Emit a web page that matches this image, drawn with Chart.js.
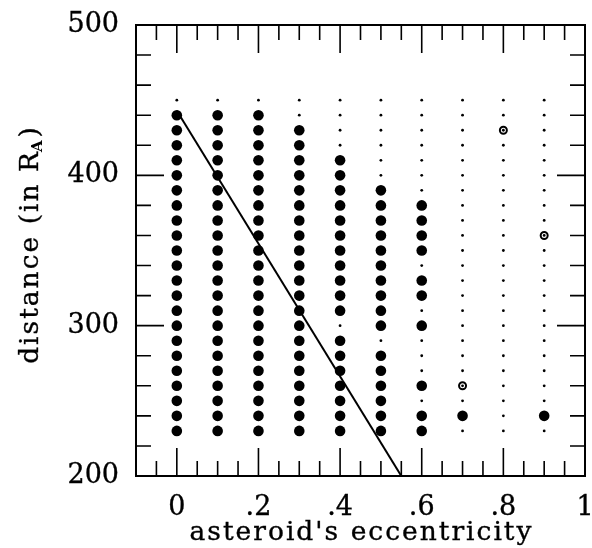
<!DOCTYPE html>
<html><head><meta charset="utf-8">
<script src="https://cdn.jsdelivr.net/npm/chart.js@4.4.0/dist/chart.umd.min.js"></script>
<style>html,body{margin:0;padding:0;background:#fff}#wrap{width:592px;height:548px}</style>
</head><body><div id="wrap"><canvas id="c" width="592" height="548"></canvas></div>
<script>
// ---- data ----
const eccentricities = [0, 0.1, 0.2, 0.3, 0.4, 0.5, 0.6, 0.7, 0.8, 0.9];
const distances = [230, 240, 250, 260, 270, 280, 290, 300, 310, 320, 330, 340, 350, 360, 370, 380, 390, 400, 410, 420, 430, 440, 450];
// large filled dots, one list of distances per eccentricity column
const bigDotsByColumn = [
  [230,240,250,260,270,280,290,300,310,320,330,340,350,360,370,380,390,400,410,420,430,440],
  [230,240,250,260,270,280,290,300,310,320,330,340,350,360,370,380,390,400,410,420,430,440],
  [230,240,250,260,270,280,290,300,310,320,330,340,350,360,370,380,390,400,410,420,430,440],
  [230,240,250,260,270,280,290,300,310,320,330,340,350,360,370,380,390,400,410,420,430],
  [230,240,250,260,270,280,290,310,320,330,340,350,360,370,380,390,400,410],
  [230,240,250,260,270,280,300,310,320,330,340,350,360,370,380,390],
  [230,240,260,300,320,330,350,360,370,380],
  [240],
  [],
  [240]
];
const openEcc = [0.7, 0.8, 0.9];
const openDist = [260, 430, 360];
const lineEcc = [0, 0.55];
const lineDist = [443, 200];
const xMajorTicks = [0, 0.2, 0.4, 0.6, 0.8, 1];
const xTickLabels = ["0", ".2", ".4", ".6", ".8", "1"];
const xMinorTicks = [-0.05, 0.05, 0.1, 0.15, 0.25, 0.3, 0.35, 0.45, 0.5, 0.55, 0.65, 0.7, 0.75, 0.85, 0.9, 0.95];
const yMajorTicks = [200, 300, 400, 500];
const yTickLabels = ["200", "300", "400", "500"];
const yMinorTicks = [220, 240, 260, 280, 320, 340, 360, 380, 420, 440, 460, 480];
const xTitle = "asteroid's eccentricity";
const yTitleMain = "distance (in R";
const yTitleSub = "A";
const yTitleEnd = ")";

// ---- build datasets ----
const smallPts = [];
eccentricities.forEach(e => distances.forEach(d => smallPts.push({x: e, y: d})));
const bigPts = [];
bigDotsByColumn.forEach((col, i) => col.forEach(d => bigPts.push({x: eccentricities[i], y: d})));
const openPts = openEcc.map((e, i) => ({x: e, y: openDist[i]}));
const linePts = lineEcc.map((e, i) => ({x: e, y: lineDist[i]}));

const FONT = '"DejaVu Serif", serif';
const TITLE_SIZE = 26.5;
const SPACING = 2;

function spacedWidth(ctx, s) {
  let w = 0;
  for (const ch of s) w += ctx.measureText(ch).width + SPACING;
  return w;
}
function drawSpaced(ctx, s, x, y) {
  for (const ch of s) { ctx.fillText(ch, x, y); ctx.strokeText(ch, x, y); x += ctx.measureText(ch).width + SPACING; }
  return x;
}

const frameTicks = {
  id: 'frameTicks',
  afterDatasetsDraw(chart) {
    const {ctx, chartArea: a, scales: {x, y}} = chart;
    ctx.save();
    ctx.strokeStyle = '#000';
    ctx.lineWidth = 1.6;
    ctx.beginPath();
    const xt = (v, len) => {
      const p = x.getPixelForValue(v);
      ctx.moveTo(p, a.bottom); ctx.lineTo(p, a.bottom - len);
      ctx.moveTo(p, a.top); ctx.lineTo(p, a.top + len);
    };
    const yt = (v, len) => {
      const p = y.getPixelForValue(v);
      ctx.moveTo(a.left, p); ctx.lineTo(a.left + len, p);
      ctx.moveTo(a.right, p); ctx.lineTo(a.right - len, p);
    };
    xMajorTicks.forEach(v => xt(v, 28));
    xMinorTicks.forEach(v => xt(v, 15));
    yMajorTicks.forEach(v => yt(v, 28));
    yMinorTicks.forEach(v => yt(v, 15));
    ctx.stroke();
    ctx.lineWidth = 2;
    ctx.strokeRect(a.left, a.top, a.right - a.left, a.bottom - a.top);

    ctx.fillStyle = '#000';
    ctx.strokeStyle = '#000';
    ctx.lineWidth = 0.35;
    ctx.textAlign = 'left';
    ctx.textBaseline = 'alphabetic';

    // x title
    ctx.font = TITLE_SIZE + 'px ' + FONT;
    const wx = spacedWidth(ctx, xTitle) - SPACING;
    drawSpaced(ctx, xTitle, (a.left + a.right) / 2 - wx / 2, 540);

    // y title with subscript
    ctx.translate(38, (a.top + a.bottom) / 2 - 5);
    ctx.rotate(-Math.PI / 2);
    ctx.font = TITLE_SIZE + 'px ' + FONT;
    const w1 = spacedWidth(ctx, yTitleMain);
    const w3 = spacedWidth(ctx, yTitleEnd) - SPACING;
    ctx.font = 'bold 15px ' + FONT;
    const w2 = ctx.measureText(yTitleSub).width + 1;
    const total = w1 + w2 + w3;
    let sx = -total / 2;
    ctx.font = TITLE_SIZE + 'px ' + FONT;
    drawSpaced(ctx, yTitleMain, sx, 0);
    ctx.font = 'bold 15px ' + FONT;
    ctx.fillText(yTitleSub, sx + w1 - 2, 4);
    ctx.font = TITLE_SIZE + 'px ' + FONT;
    drawSpaced(ctx, yTitleEnd, sx + w1 + w2, 0);
    ctx.restore();
  }
};

new Chart(document.getElementById('c'), {
  type: 'scatter',
  data: {
    datasets: [
      {label: 'line', type: 'line', data: linePts, borderColor: '#000', borderWidth: 2, pointRadius: 0, fill: false, order: 0},
      {label: 'open', data: openPts, pointRadius: 3.5, borderWidth: 2, borderColor: '#000', backgroundColor: 'rgba(0,0,0,0)', order: 1},
      {label: 'big', data: bigPts, pointRadius: 5.3, borderWidth: 0, backgroundColor: '#000', order: 2},
      {label: 'small', data: smallPts, pointRadius: 1.4, borderWidth: 0, backgroundColor: '#000', order: 3}
    ]
  },
  options: {
    responsive: false,
    animation: false,
    events: [],
    layout: {padding: {top: 25, right: 7, left: 0, bottom: 0}},
    plugins: {legend: {display: false}, tooltip: {enabled: false}},
    scales: {
      x: {
        type: 'linear', min: -0.1, max: 1.0,
        afterBuildTicks: s => { s.ticks = xMajorTicks.map(v => ({value: v})); },
        afterFit: s => { s.height = 72; s.paddingLeft = 0; s.paddingRight = 0; },
        grid: {display: false, drawTicks: false},
        border: {display: false},
        ticks: {
          padding: 16, autoSkip: false, maxRotation: 0, color: '#000',
          textStrokeColor: '#000', textStrokeWidth: 0.35,
          font: {family: FONT, size: 27},
          callback: (v, i) => xTickLabels[i]
        }
      },
      y: {
        type: 'linear', min: 200, max: 500,
        afterBuildTicks: s => { s.ticks = yMajorTicks.map(v => ({value: v})); },
        afterFit: s => { s.width = 136; s.paddingTop = 0; s.paddingBottom = 0; },
        grid: {display: false, drawTicks: false},
        border: {display: false},
        ticks: {
          padding: 17, autoSkip: false, color: '#000',
          textStrokeColor: '#000', textStrokeWidth: 0.35,
          font: {family: FONT, size: 27},
          callback: (v, i) => yTickLabels[i]
        }
      }
    }
  },
  plugins: [frameTicks]
});
</script>
</body></html>
